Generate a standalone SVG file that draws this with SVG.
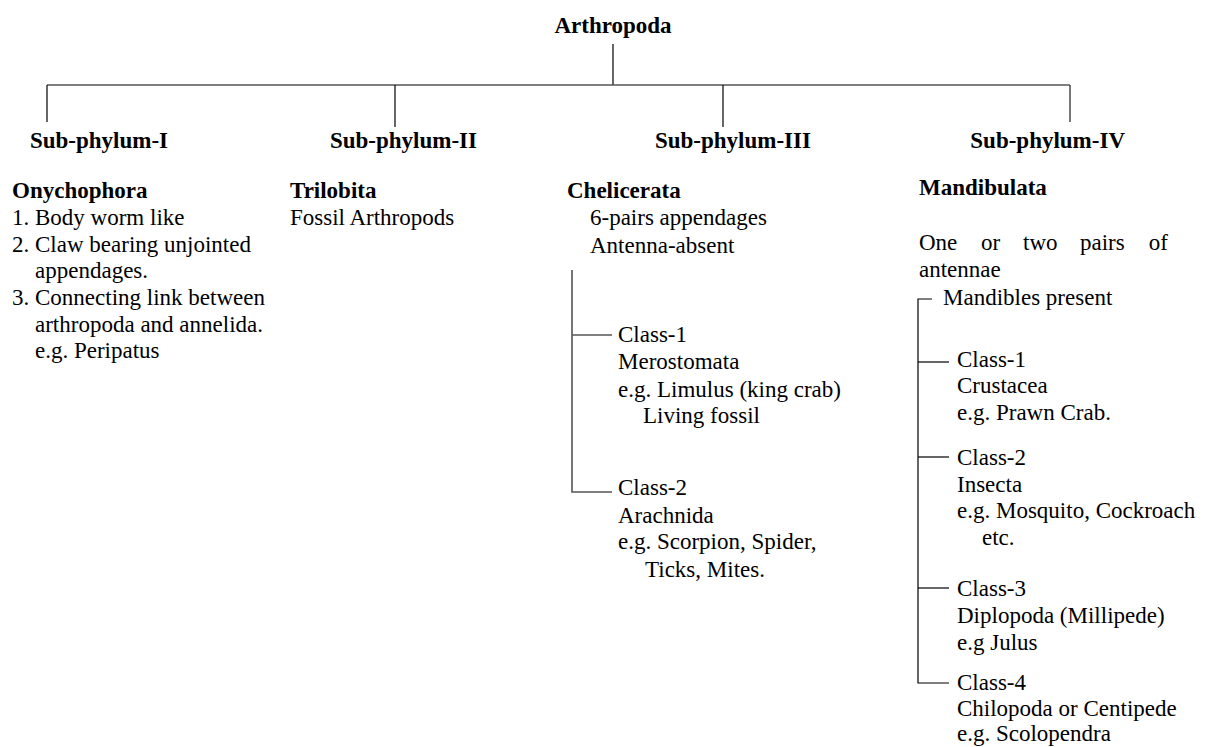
<svg xmlns="http://www.w3.org/2000/svg" width="1210" height="747" viewBox="0 0 1210 747">
  <style>
    text { font-family: "Liberation Serif", "Times New Roman", serif; font-size: 23px; fill: #000; }
    .b { font-weight: bold; }
    .ln { stroke: #000; stroke-width: 1.2; fill: none; }
    .gl { stroke: #555; stroke-width: 1.6; fill: none; }
  </style>
  <rect width="1210" height="747" fill="#fff"/>

  <!-- tree connectors -->
  <g id="connectors">
    <line class="ln" x1="613" y1="44" x2="613" y2="85"/>
    <line class="gl" x1="47" y1="85" x2="1070" y2="85"/>
    <line class="ln" x1="47" y1="85" x2="47" y2="122"/>
    <line class="ln" x1="395" y1="85" x2="395" y2="127"/>
    <line class="ln" x1="723" y1="85" x2="723" y2="127"/>
    <line class="gl" x1="1070" y1="85" x2="1070" y2="122"/>
    <!-- Chelicerata classes -->
    <polyline class="gl" points="572,270 572,492 612,492"/>
    <line class="gl" x1="572" y1="335" x2="612" y2="335"/>
    <!-- Mandibulata classes -->
    <polyline class="ln" points="932,299 918,299 918,683 949,683"/>
    <line class="ln" x1="918" y1="362" x2="949" y2="362"/>
    <line class="ln" x1="918" y1="457" x2="949" y2="457"/>
    <line class="ln" x1="918" y1="588" x2="949" y2="588"/>
  </g>

  <g id="root">
    <text class="b" x="613" y="33" text-anchor="middle">Arthropoda</text>
  </g>

  <g id="subphylum-1">
    <text class="b" x="30" y="148">Sub-phylum-I</text>
    <text class="b" x="12" y="198">Onychophora</text>
    <text x="12" y="225">1. Body worm like</text>
    <text x="12" y="252">2. Claw bearing unjointed</text>
    <text x="35" y="278">appendages.</text>
    <text x="12" y="305">3. Connecting link between</text>
    <text x="35" y="332">arthropoda and annelida.</text>
    <text x="35" y="358">e.g. Peripatus</text>
  </g>

  <g id="subphylum-2">
    <text class="b" x="330" y="148">Sub-phylum-II</text>
    <text class="b" x="290" y="198">Trilobita</text>
    <text x="290" y="225">Fossil Arthropods</text>
  </g>

  <g id="subphylum-3">
    <text class="b" x="655" y="148">Sub-phylum-III</text>
    <text class="b" x="567" y="198">Chelicerata</text>
    <text x="590" y="225">6-pairs appendages</text>
    <text x="590" y="253">Antenna-absent</text>
  </g>

  <g id="chelicerata-class-1">
    <text x="618" y="342">Class-1</text>
    <text x="618" y="369">Merostomata</text>
    <text x="618" y="397">e.g. Limulus (king crab)</text>
    <text x="643" y="423">Living fossil</text>
  </g>

  <g id="chelicerata-class-2">
    <text x="618" y="495">Class-2</text>
    <text x="618" y="523">Arachnida</text>
    <text x="618" y="549">e.g. Scorpion, Spider,</text>
    <text x="645" y="577">Ticks, Mites.</text>
  </g>

  <g id="subphylum-4">
    <text class="b" x="1125" y="148" text-anchor="end">Sub-phylum-IV</text>
    <text class="b" x="919" y="195">Mandibulata</text>
    <text x="919" y="250">One</text>
    <text x="981" y="250">or</text>
    <text x="1023" y="250">two</text>
    <text x="1080" y="250">pairs</text>
    <text x="1168" y="250" text-anchor="end">of</text>
    <text x="919" y="277">antennae</text>
    <text x="943" y="305">Mandibles present</text>
  </g>

  <g id="mandibulata-class-1">
    <text x="957" y="367">Class-1</text>
    <text x="957" y="393">Crustacea</text>
    <text x="957" y="420">e.g. Prawn Crab.</text>
  </g>

  <g id="mandibulata-class-2">
    <text x="957" y="465">Class-2</text>
    <text x="957" y="492">Insecta</text>
    <text x="957" y="518">e.g. Mosquito, Cockroach</text>
    <text x="982" y="545">etc.</text>
  </g>

  <g id="mandibulata-class-3">
    <text x="957" y="596">Class-3</text>
    <text x="957" y="623">Diplopoda (Millipede)</text>
    <text x="957" y="650">e.g Julus</text>
  </g>

  <g id="mandibulata-class-4">
    <text x="957" y="690">Class-4</text>
    <text x="957" y="716">Chilopoda or Centipede</text>
    <text x="957" y="741">e.g. Scolopendra</text>
  </g>
</svg>
